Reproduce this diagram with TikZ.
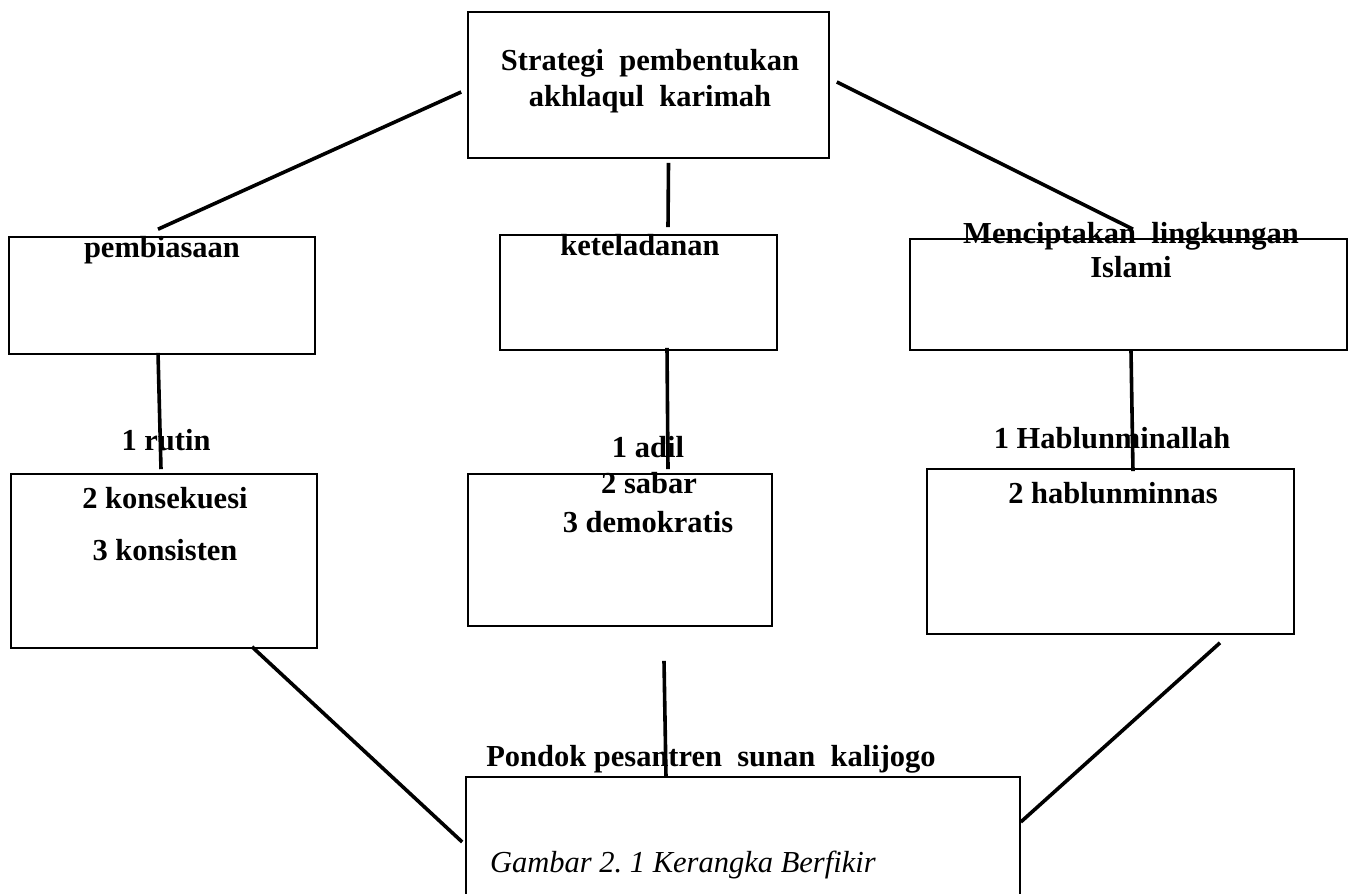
\documentclass[tikz,border=0pt]{standalone}
\usepackage{fontspec}
\setmainfont{Liberation Serif}
\usetikzlibrary{calc}

\begin{document}
\begin{tikzpicture}[
  x=1pt,y=-1pt,
  box/.style={draw,line width=1.6pt,inner sep=0pt},
  lbl/.style={anchor=base,inner sep=0pt,font=\fontsize{30.5}{36}\selectfont\bfseries},
  conn/.style={line width=3.6pt}]
\useasboundingbox (0,0) rectangle (1352,894);
% boxes
\node[box,minimum width=361pt,minimum height=146pt] (b0) at (648.5,85)   {};
\node[box,minimum width=306pt,minimum height=117pt] (b1) at (162,295.5)  {};
\node[box,minimum width=277pt,minimum height=115pt] (b2) at (638.5,292.5) {};
\node[box,minimum width=437pt,minimum height=111pt] (b3) at (1128.5,294.5) {};
\node[box,minimum width=306pt,minimum height=174pt] (b4) at (164,561)    {};
\node[box,minimum width=304pt,minimum height=152pt] (b5) at (620,550)    {};
\node[box,minimum width=367pt,minimum height=165pt] (b6) at (1110.5,551.5) {};
\node[box,minimum width=554pt,minimum height=123pt] (b7) at (743,838.5)  {};
% texts
\node[lbl] (l0a) at (650,70)  {Strategi\ \ pembentukan};
\node[lbl] (l0b) at (650,106) {akhlaqul\ \ karimah};
\node[lbl] (l1)  at (162,257) {pembiasaan};
\node[lbl] (l2)  at (640,255) {keteladanan};
\node[lbl] (l3a) at (1131,243) {Menciptakan\ \ lingkungan};
\node[lbl] (l3b) at (1131,277) {Islami};
\node[lbl] (l4a) at (166,450) {1 rutin};
\node[lbl] (l4b) at (165,508) {2 konsekuesi};
\node[lbl] (l4c) at (165,560) {3 konsisten};
\node[lbl] (l5a) at (648,457) {1 adil};
\node[lbl] (l5b) at (649,493) {2 sabar};
\node[lbl] (l5c) at (648,532) {3 demokratis};
\node[lbl] (l6a) at (1112,448) {1 Hablunminallah};
\node[lbl] (l6b) at (1113,503) {2 hablunminnas};
\node[lbl] (l7)  at (711,766) {Pondok pesantren\ \ sunan\ \ kalijogo};
\node[lbl,anchor=base west,font=\fontsize{30.5}{36}\selectfont\itshape] (cap) at (490,872)
  {Gambar 2.\ 1 Kerangka Berfikir};
% connectors
\draw[conn] ($(b0.west)+(-6,7)$)  -- ($(b1.north)+(-4,-7)$);
\draw[conn] ($(b0.south)+(20,4)$) -- ($(b2.north)+(29.5,-7)$);
\draw[conn] ($(b0.east)+(7,-3)$)  -- ($(b3.north)+(4.5,-9)$);
\draw[conn] ($(b1.south)+(-4,-2)$) -- ($(b4.north)+(-3,-4)$);
\draw[conn] ($(b2.south)+(28.5,-3)$) -- ($(b5.north)+(48,-4)$);
\draw[conn] ($(b3.south)+(2.5,0)$) -- ($(b6.north)+(22.5,3)$);
\draw[conn] ($(b4.south)+(88,-2)$) -- ($(b7.west)+(-3,3.5)$);
\draw[conn] ($(b5.south)+(44,34)$) -- ($(b7.north)+(-77,1)$);
\draw[conn] ($(b6.south)+(109.5,8)$) -- ($(b7.east)+(0,-16.5)$);
\end{tikzpicture}
\end{document}
